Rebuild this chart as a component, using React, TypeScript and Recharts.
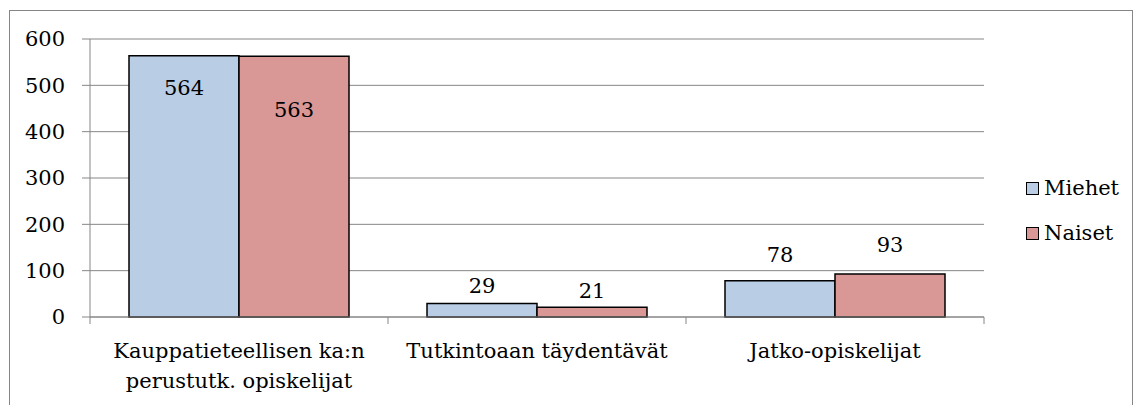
import { BarChart, Bar, XAxis, YAxis, CartesianGrid, Legend, LabelList } from 'recharts';

const categories = [
  'Kauppatieteellisen ka:n\nperustutk. opiskelijat',
  'Tutkintoaan täydentävät',
  'Jatko-opiskelijat',
];
const miehet = [564, 29, 78];
const naiset = [563, 21, 93];
const yTicks = [0, 100, 200, 300, 400, 500, 600];

const data = categories.map((name, i) => ({ name, miehet: miehet[i], naiset: naiset[i] }));

const GRAY = '#868686';
// Liberation Serif does not resolve here, DejaVu Serif does
const FONT = 'DejaVu Serif';
const FS = 21;

function CategoryTick(props: any) {
  const { x, y, payload, width, visibleTicksCount, index } = props;
  const band = width / visibleTicksCount;
  const lines = String(payload.value).split('\n');
  return (
    <g>
      <line x1={x - band / 2} x2={x - band / 2} y1={y} y2={y + 7} stroke={GRAY} />
      {index === visibleTicksCount - 1 && (
        <line x1={x + band / 2} x2={x + band / 2} y1={y} y2={y + 7} stroke={GRAY} />
      )}
      <text x={x} y={y + 41} textAnchor="middle" fill="#000" fontSize={FS} style={{ fontFamily: FONT }}>
        {lines.map((l, i) => (
          <tspan key={i} x={x} dy={i === 0 ? 0 : 30}>{l}</tspan>
        ))}
      </text>
    </g>
  );
}

// labels sit inside the tall bars, above the short ones (a bit higher for taller bars)
function makeValueLabel(insideDy: number) {
  return (p: any) => {
    const { x, y, width, value } = p;
    const inside = value > 300;
    return (
      <text
        x={x + width / 2}
        y={inside ? y + insideDy : y - (12 + value * 0.18)}
        textAnchor="middle"
        dominantBaseline="central"
        fill="#000"
        fontSize={FS}
        style={{ fontFamily: FONT }}
      >
        {value}
      </text>
    );
  };
}

function LegendContent(props: any) {
  const { payload } = props;
  return (
    <div style={{ fontFamily: FONT }}>
      {(payload || []).map((item: any) => (
        <div key={item.value} style={{ display: 'flex', alignItems: 'center', height: 45 }}>
          <span
            style={{
              display: 'inline-block',
              width: 11,
              height: 11,
              background: item.color,
              border: '1.5px solid #000',
              marginRight: 5,
            }}
          />
          <span style={{ fontSize: FS, color: '#000', lineHeight: 1 }}>{item.value}</span>
        </div>
      ))}
    </div>
  );
}

export default function App() {
  return (
    <div style={{ position: 'absolute', left: 0, top: 0, width: 1134, height: 405, overflow: 'hidden', background: '#fff', fontFamily: FONT }}>
      <div style={{ position: 'absolute', left: 9, top: 10, width: 1122, height: 420, border: `1px solid ${GRAY}` }} />
      <BarChart
        width={1134}
        height={405}
        data={data}
        margin={{ top: 39, right: 150, bottom: 0, left: 0 }}
        barGap={0}
        barSize={110}
        style={{ position: 'absolute', left: 0, top: 0 }}
      >
        <CartesianGrid vertical={false} stroke={GRAY} strokeWidth={1} />
        <XAxis
          dataKey="name"
          height={88}
          axisLine={{ stroke: GRAY }}
          tickLine={false}
          tickSize={0}
          tickMargin={0}
          interval={0}
          tick={<CategoryTick />}
        />
        <YAxis
          width={90}
          domain={[0, 600]}
          ticks={yTicks}
          axisLine={{ stroke: GRAY }}
          tickLine={{ stroke: GRAY }}
          tickSize={8}
          tickMargin={17}
          tick={{ fill: '#000', fontSize: FS, style: { fontFamily: FONT } }}
        />
        <Legend
          layout="horizontal"
          verticalAlign="middle"
          align="center"
          wrapperStyle={{ top: 166, left: 1026, width: 108 }}
          content={<LegendContent />}
        />
        <Bar dataKey="miehet" name="Miehet" fill="#B9CDE5" stroke="#000" strokeWidth={1.5} isAnimationActive={false}>
          <LabelList dataKey="miehet" content={makeValueLabel(32)} />
        </Bar>
        <Bar dataKey="naiset" name="Naiset" fill="#D99795" stroke="#000" strokeWidth={1.5} isAnimationActive={false}>
          <LabelList dataKey="naiset" content={makeValueLabel(54)} />
        </Bar>
      </BarChart>
    </div>
  );
}
